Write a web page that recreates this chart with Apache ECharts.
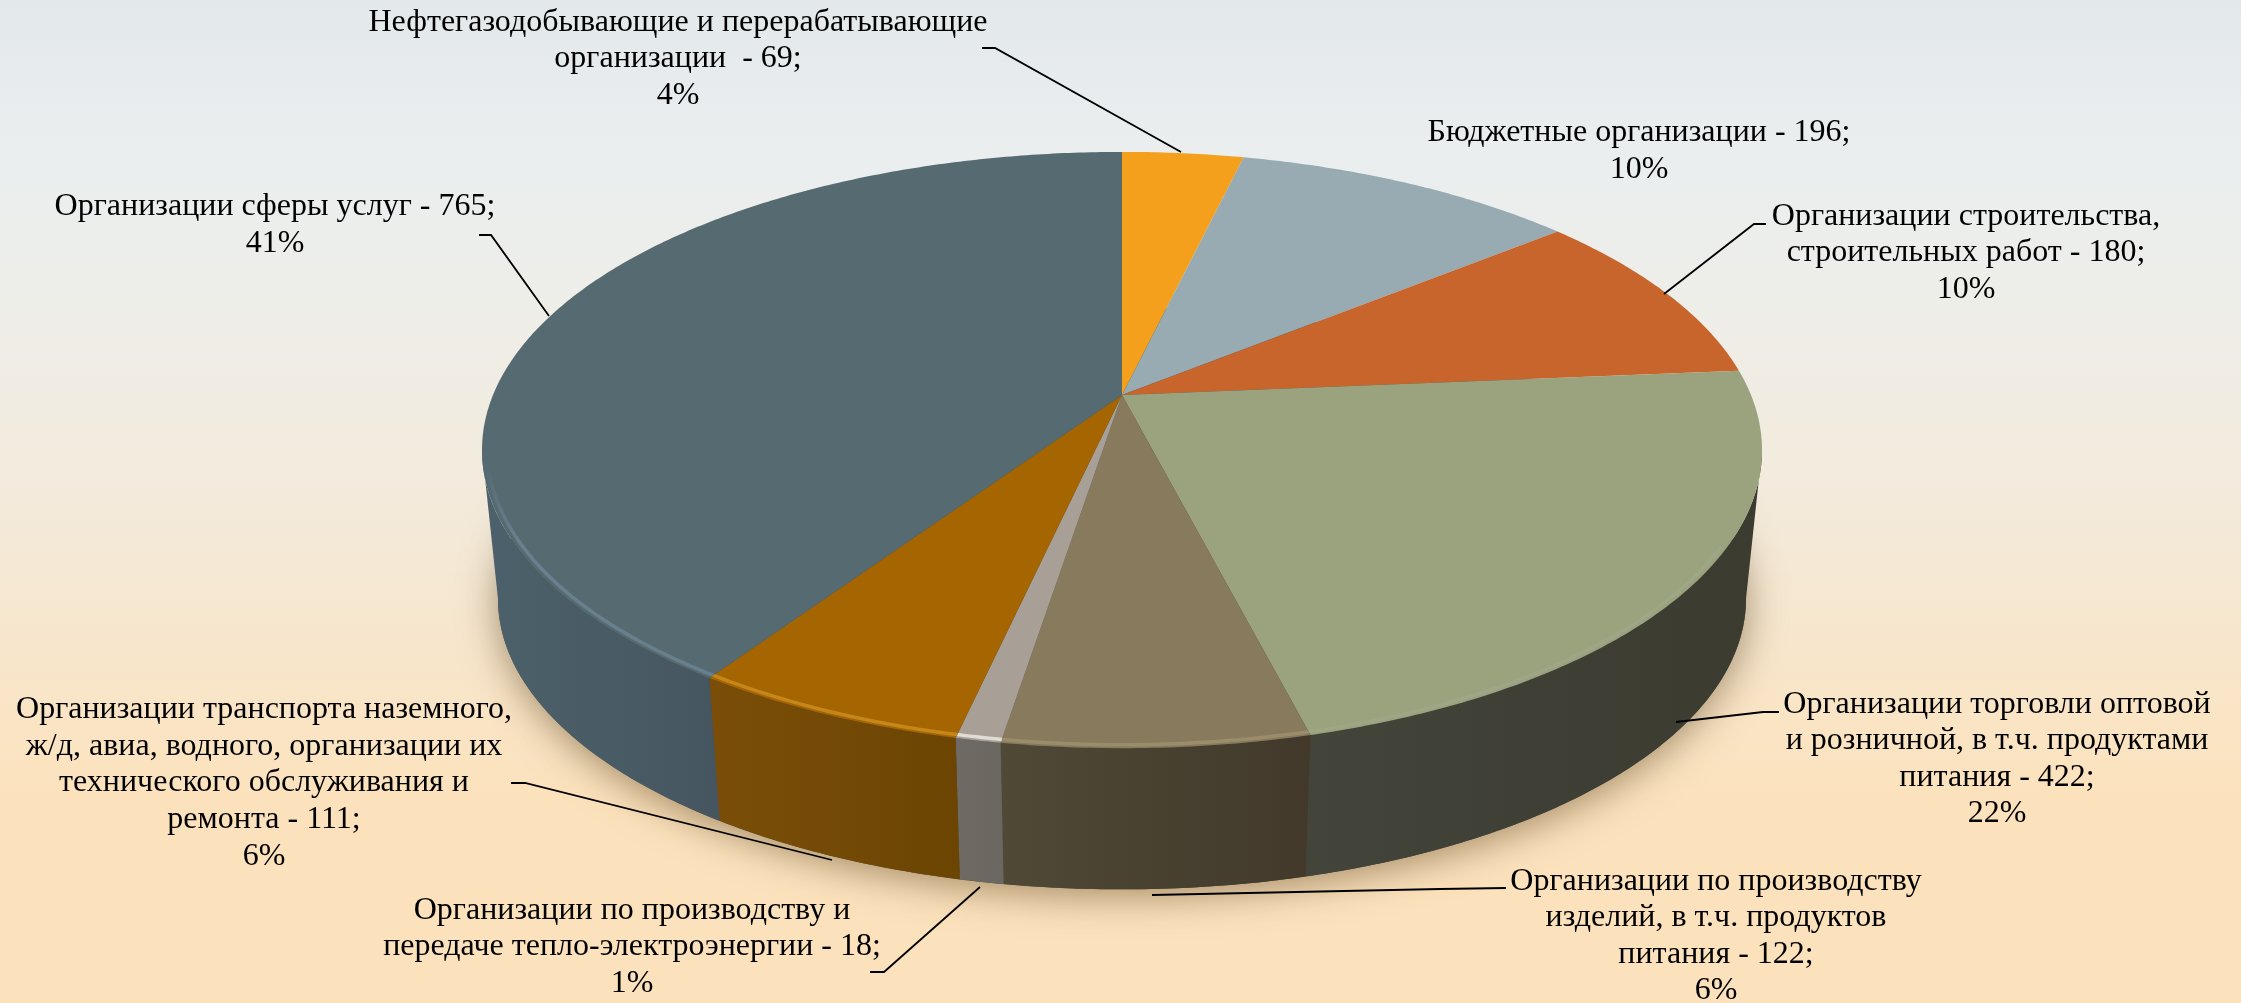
<!DOCTYPE html>
<html>
<head>
<meta charset="utf-8">
<style>
  html, body { margin: 0; padding: 0; }
  #chart { width: 2241px; height: 1003px; }
</style>
<script src="https://cdn.jsdelivr.net/npm/echarts@6/dist/echarts.min.js"></script>
</head>
<body>
<div id="chart"></div>
<script>
// data
const names = [
  'Нефтегазодобывающие и перерабатывающие\nорганизации ',
  'Бюджетные организации',
  'Организации строительства,\nстроительных работ',
  'Организации торговли оптовой\nи розничной, в т.ч. продуктами\nпитания',
  'Организации по производству\nизделий, в т.ч. продуктов\nпитания',
  'Организации по производству и\nпередаче тепло-электроэнергии',
  'Организации транспорта наземного,\nж/д, авиа, водного, организации их\nтехнического обслуживания и\nремонта',
  'Организации сферы услуг'
];
const values = [69, 196, 180, 422, 122, 18, 111, 765];

// colours per slice
const topColors = ['#F5A01C', '#98ABB2', '#C8652C', '#9AA37E', '#887A5C', '#A8A097', '#A56500', '#566A71'];
const wallColors = [
  ['#A06A10', '#A06A10'], ['#5F6F75', '#5F6F75'], ['#824019', '#824019'], ['#43443A', '#3B3B30'],
  ['#4F4936', '#42392A'], ['#6F6A64', '#6A6660'], ['#7A4E08', '#6C4503'], ['#4C616B', '#465660']
];
const rimColors = [null, null, null, '#A2A98E', '#A0926F', '#E8E2DA', '#CC8C1E', '#70899A'];
const rimOpacity = [0, 0, 0, 0.5, 0.8, 0.9, 0.85, 0.7];

// label + leader line layout (label centre, leader polyline)
const labelPos = [
  [678, 59], [1639, 151], [1966, 253], [1997, 759],
  [1716, 936], [632, 947], [264, 783], [275, 225]
];
const leaders = [
  [[982, 48], [995, 48], [1181, 152]],
  null,
  [[1766, 224], [1754, 224], [1664, 294]],
  [[1779, 712], [1763, 712], [1676, 722]],
  [[1506, 888], [1440, 889], [1152, 895]],
  [[870, 972], [884, 972], [980, 887]],
  [[511, 783], [525, 783], [832, 860]],
  [[479, 235], [491, 235], [549, 316]]
];

// pie projection, a circle seen in perspective
const cx = 1122, cy = 395, rx = 629, ry = 288, persp = 0.1846;
const wallDrop = 150, wallScale = 0.975;
// angles where the rim turns away from the viewer
const sideRight = Math.PI - Math.acos(persp), sideLeft = Math.PI + Math.acos(persp);

const total = values.reduce((a, b) => a + b, 0);
let acc = 0;
const ranges = values.map(v => {
  const r = [acc / total * Math.PI * 2, (acc + v) / total * Math.PI * 2];
  acc += v;
  return r;
});

function topPoint(t, r) {
  const k = r === undefined ? 1 : r;
  const u = Math.sin(t) * k, v = -Math.cos(t) * k;
  const d = 1 - persp * v;
  return [cx + rx * u / d, cy + ry * v / d];
}
function bottomPoint(t) {
  const u = Math.sin(t), v = -Math.cos(t);
  const d = 1 - persp * v;
  return [cx + wallScale * rx * u / d, cy + wallDrop + wallScale * ry * v / d];
}
function arc(fn, a, b, extra) {
  const n = Math.max(2, Math.ceil((b - a) / 0.01));
  const pts = [];
  for (let i = 0; i <= n; i++) pts.push(fn(a + (b - a) * i / n, extra));
  return pts;
}
function xGradient(c) {
  return new echarts.graphic.LinearGradient(0, 0, 1, 0, [
    { offset: 0, color: c[0] },
    { offset: 1, color: c[1] }
  ]);
}

function renderShadow() {
  // only the bottom disc casts, so nothing shows behind the top
  return {
    type: 'polygon',
    shape: { points: arc(bottomPoint, 0, Math.PI * 2) },
    style: { fill: '#4A4A40', shadowBlur: 38, shadowColor: 'rgba(90,65,30,0.55)', shadowOffsetY: 6 }
  };
}
function renderWall(params, api) {
  const i = params.dataIndex;
  const a = Math.max(api.value(0), sideRight), b = Math.min(api.value(1), sideLeft);
  if (a >= b) return null;
  const pts = arc(topPoint, a, b).concat(arc(bottomPoint, a, b).reverse());
  return { type: 'polygon', shape: { points: pts }, style: { fill: xGradient(wallColors[i]) } };
}
function renderTop(params, api) {
  const i = params.dataIndex;
  const a = api.value(0), b = api.value(1);
  const pts = [[cx, cy]].concat(arc(topPoint, a, b));
  const children = [{ type: 'polygon', shape: { points: pts }, style: { fill: topColors[i] } }];
  if (rimColors[i]) {
    // light bevel running along the front edge of the top
    const from = Math.max(a, Math.PI * 0.66), to = Math.min(b, Math.PI * 1.42);
    let stroke = rimColors[i];
    if (i === 7) {
      // fades out towards the left end
      stroke = new echarts.graphic.LinearGradient(0, 0, 0, 1, [
        { offset: 0, color: 'rgba(112,137,154,0)' },
        { offset: 0.35, color: rimColors[i] },
        { offset: 1, color: rimColors[i] }
      ]);
    }
    children.push({
      type: 'polyline',
      shape: { points: arc(topPoint, from, to, 0.992) },
      style: { stroke, fill: null, lineWidth: 3.5, opacity: rimOpacity[i] }
    });
  }
  return { type: 'group', children };
}

const labelGraphics = [];
names.forEach((name, i) => {
  const pct = Math.round(values[i] / total * 100);
  labelGraphics.push({
    type: 'text',
    x: labelPos[i][0],
    y: labelPos[i][1],
    z: 20,
    style: {
      text: name + ' - ' + values[i] + ';\n' + pct + '%',
      font: '32px "Liberation Serif"',
      lineHeight: 36.6,
      fill: '#000',
      align: 'center',
      verticalAlign: 'middle'
    }
  });
  if (leaders[i]) {
    labelGraphics.push({
      type: 'polyline',
      z: 20,
      shape: { points: leaders[i] },
      style: { stroke: '#000', lineWidth: 1.8, fill: null }
    });
  }
});

const myChart = echarts.init(document.getElementById('chart'));
myChart.setOption({
  animation: false,
  backgroundColor: new echarts.graphic.LinearGradient(0, 0, 0, 1, [
    { offset: 0, color: '#E3E8EB' },
    { offset: 0.15, color: '#EAEEEF' },
    { offset: 0.3, color: '#EEEEE9' },
    { offset: 0.5, color: '#F3EADB' },
    { offset: 0.8, color: '#FCE2BC' },
    { offset: 1, color: '#FCE2BC' }
  ]),
  graphic: labelGraphics,
  series: [
    { type: 'custom', coordinateSystem: 'none', silent: true, data: [[0, total]], renderItem: renderShadow, z: 1 },
    { type: 'custom', coordinateSystem: 'none', silent: true, data: ranges, renderItem: renderWall, z: 2 },
    { type: 'custom', coordinateSystem: 'none', silent: true, data: ranges, renderItem: renderTop, z: 3 }
  ]
});
</script>
</body>
</html>
